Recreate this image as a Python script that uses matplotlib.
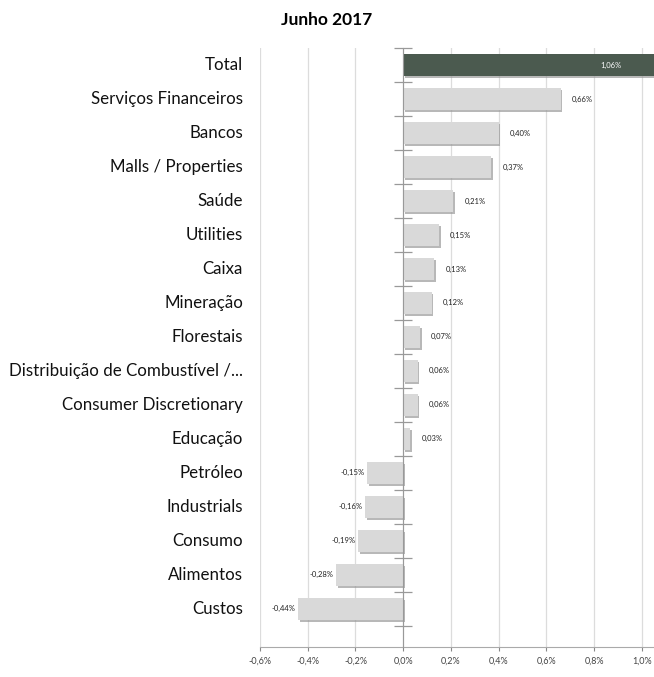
import matplotlib.pyplot as plt
import matplotlib.patheffects as pe
import matplotlib.transforms as mtransforms
from matplotlib.ticker import FuncFormatter, MultipleLocator, FixedLocator
import numpy as np

plt.rcParams['font.family'] = ['Lato', 'DejaVu Sans']

# data
categories = ["Total", "Serviços Financeiros", "Bancos", "Malls / Properties", "Saúde",
              "Utilities", "Caixa", "Mineração", "Florestais",
              "Distribuição de Combustível /...", "Consumer Discretionary", "Educação",
              "Petróleo", "Industrials", "Consumo", "Alimentos", "Custos"]
values = [1.06, 0.66, 0.40, 0.37, 0.21, 0.15, 0.13, 0.12, 0.07,
          0.06, 0.06, 0.03, -0.15, -0.16, -0.19, -0.28, -0.44]
title = "Junho 2017"

fig = plt.figure(figsize=(6.54, 6.77), dpi=100)
ax = fig.add_axes([260 / 654, 30 / 677, 1 - 260 / 654, (647 - 48) / 677])

y = np.arange(len(categories))
colors = ["#4b5a4f"] + ["#d9d9d9"] * (len(categories) - 1)
shadow = [pe.SimplePatchShadow(offset=(1.2, -1.5), shadow_rgbFace="#9a9a9a", alpha=0.7), pe.Normal()]
bars = ax.barh(y, values, height=0.66, color=colors, zorder=3)
for b in bars:
    b.set_path_effects(shadow)

# value labels
for i, v in enumerate(values):
    txt = f"{v:.2f}%".replace(".", ",")
    if i == 0:
        ax.text(0.87, i, txt, ha="center", va="center", fontsize=5.5, color="white", zorder=5)
    elif v >= 0:
        ax.annotate(txt, (v, i), xytext=(8, 0), textcoords="offset points",
                    ha="left", va="center", fontsize=5.5, color="#222222")
    else:
        ax.annotate(txt, (v, i), xytext=(-2, 0), textcoords="offset points",
                    ha="right", va="center", fontsize=5.5, color="#222222")

ax.set_xlim(-0.6, 1.051)
ax.set_ylim(len(categories) - 0.5 + 0.62, -0.5)

# x axis
ax.xaxis.set_major_locator(MultipleLocator(0.2))
ax.xaxis.set_major_formatter(FuncFormatter(lambda x, p: f"{x:.1f}%".replace(".", ",").replace("-0,0", "0,0")))
ax.tick_params(axis="x", labelsize=6.5, colors="#888888", labelcolor="#444444", length=3, pad=4)
ax.grid(axis="x", color="#dcdcdc", linewidth=0.9, zorder=0)

# y axis at zero with cross ticks at category boundaries
ax.spines["left"].set_position(("data", 0))
ax.spines["left"].set_color("#999999")
ax.spines["left"].set_zorder(4)
ax.yaxis.set_major_locator(FixedLocator(np.arange(len(categories) + 1) - 0.5))
ax.yaxis.set_major_formatter(FuncFormatter(lambda x, p: ""))
ax.tick_params(axis="y", direction="inout", length=13, colors="#999999", width=0.9)
ax.spines["bottom"].set_color("#aaaaaa")
for s in ["top", "right"]:
    ax.spines[s].set_visible(False)

# category labels
trans = mtransforms.blended_transform_factory(fig.transFigure, ax.transData)
for i, c in enumerate(categories):
    ax.text(243 / 654, i, c, transform=trans, ha="right", va="center", fontsize=12.2, color="#111111")

fig.text(0.5, 1 - 20 / 677, title, ha="center", va="center", fontsize=12.5, fontweight="bold")

fig.savefig("out.png", dpi=100)
